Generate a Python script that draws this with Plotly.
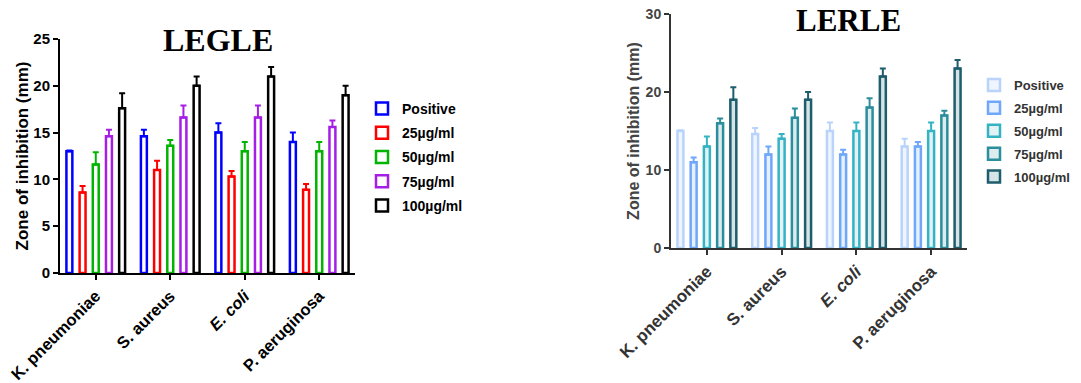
import plotly.graph_objects as go

categories = ["K. pneumoniae", "S. aureus", "E. coli", "P. aeruginosa"]
tick_labels = ["K. pneumoniae", "S. aureus", "<i>E. coli</i>", "P. aeruginosa"]
series_names = ["Positive", "25µg/ml", "50µg/ml", "75µg/ml", "100µg/ml"]

# LEGLE values (mm) and upper error (mm)
legle_positive = [13.0, 14.6, 15.0, 14.0]
legle_25 = [8.6, 11.0, 10.3, 8.9]
legle_50 = [11.6, 13.6, 13.0, 13.0]
legle_75 = [14.6, 16.6, 16.6, 15.6]
legle_100 = [17.6, 20.0, 21.0, 19.0]
legle_err_positive = [0.1, 0.7, 1.0, 1.0]
legle_err_25 = [0.7, 1.0, 0.6, 0.6]
legle_err_50 = [1.3, 0.6, 1.0, 1.0]
legle_err_75 = [0.7, 1.3, 1.3, 0.7]
legle_err_100 = [1.6, 1.0, 1.0, 1.0]

# LERLE values (mm) and upper error (mm)
lerle_positive = [15.0, 14.6, 15.0, 13.0]
lerle_25 = [11.0, 12.0, 12.0, 13.0]
lerle_50 = [13.0, 14.0, 15.0, 15.0]
lerle_75 = [16.0, 16.7, 18.0, 17.0]
lerle_100 = [19.0, 19.0, 22.0, 23.0]
lerle_err_positive = [0.1, 0.8, 1.1, 1.0]
lerle_err_25 = [0.6, 1.0, 0.6, 0.6]
lerle_err_50 = [1.3, 0.6, 1.1, 1.1]
lerle_err_75 = [0.6, 1.2, 1.2, 0.6]
lerle_err_100 = [1.6, 1.0, 1.0, 1.1]

legle_vals = [legle_positive, legle_25, legle_50, legle_75, legle_100]
legle_errs = [legle_err_positive, legle_err_25, legle_err_50, legle_err_75, legle_err_100]
lerle_vals = [lerle_positive, lerle_25, lerle_50, lerle_75, lerle_100]
lerle_errs = [lerle_err_positive, lerle_err_25, lerle_err_50, lerle_err_75, lerle_err_100]

legle_colors = ["#0000ff", "#ff0000", "#00b400", "#a61ee6", "#000000"]
lerle_lines = ["#b9d3fa", "#6fa7fb", "#34b3c3", "#2b8e9c", "#1d5d6c"]
lerle_fills = ["#eef5ff", "#e6f0ff", "#e3f3f5", "#dcecef", "#d6e4e8"]

W, H = 1081, 383
OFF = 0  # page body margin removed below
fig = go.Figure()

for name, vals, errs, col in zip(series_names, legle_vals, legle_errs, legle_colors):
    fig.add_trace(go.Bar(
        x=categories, y=vals, name="<b>" + name + "</b>", xaxis="x", yaxis="y",
        legend="legend", legendgroup="L" + name,
        marker=dict(color="white", line=dict(color=col, width=2.5)),
        error_y=dict(type="data", array=errs, arrayminus=[0] * len(errs), symmetric=False,
                     color=col, thickness=2, width=3),
    ))

for name, vals, errs, col, fill in zip(series_names, lerle_vals, lerle_errs, lerle_lines, lerle_fills):
    fig.add_trace(go.Bar(
        x=categories, y=vals, name="<b>" + name + "</b>", xaxis="x2", yaxis="y2",
        legend="legend2", legendgroup="R" + name,
        marker=dict(color=fill, line=dict(color=col, width=2.5)),
        error_y=dict(type="data", array=errs, arrayminus=[0] * len(errs), symmetric=False,
                     color=col, thickness=2, width=3),
    ))

def px_x(p):
    return (p - OFF) / W

def px_y(p):
    return 1 - (p - OFF) / H

FONT = "Liberation Sans, Arial"
common_x = dict(type="category", showline=True, ticks="outside", ticklen=5, tickwidth=2,
                tickangle=-45, showgrid=False, zeroline=False, tickvals=categories,
                ticktext=["<b>" + t + "</b>" for t in tick_labels], range=[-0.48, 3.48],
                automargin=False, ticklabeloverflow="allow")

fig.update_layout(
    width=W, height=H, margin=dict(l=0, r=0, t=0, b=0, autoexpand=False),
    paper_bgcolor="white", plot_bgcolor="white",
    barmode="group", bargap=0.115, bargroupgap=0.55,
    font=dict(family=FONT),
    xaxis=dict(domain=[px_x(60), px_x(355)], anchor="y", linecolor="black", linewidth=2,
               tickcolor="black", tickfont=dict(family=FONT, size=16.5, color="black"), **common_x),
    yaxis=dict(domain=[px_y(273), px_y(39)], anchor="x", range=[0, 25], dtick=5,
               showline=True, linecolor="black", linewidth=2, ticks="outside", ticklen=5,
               tickwidth=2, tickcolor="black", showgrid=False, zeroline=False, automargin=False,
               ticklabeloverflow="allow",
               tickfont=dict(family=FONT, size=15, color="black"), tickprefix="<b>", ticksuffix="</b>",
               title=dict(text="<b>Zone of inhibition (mm)</b>",
                          font=dict(family=FONT, size=17, color="black"), standoff=0)),
    xaxis2=dict(domain=[px_x(671), px_x(967)], anchor="y2", linecolor="#333333", linewidth=2,
                tickcolor="#333333", tickfont=dict(family=FONT, size=17, color="#333333"),
                **common_x),
    yaxis2=dict(domain=[px_y(248), px_y(14)], anchor="x2", range=[0, 30], dtick=10,
                showline=True, linecolor="#333333", linewidth=2, ticks="outside", ticklen=5,
                tickwidth=2, tickcolor="#333333", showgrid=False, zeroline=False, automargin=False,
                ticklabeloverflow="allow",
                tickfont=dict(family=FONT, size=14, color="#444444"),
                tickprefix="<b>", ticksuffix="</b>",
                title=dict(text="<b>Zone of inhibition (mm)</b>",
                           font=dict(family=FONT, size=16, color="#444444"), standoff=2)),
    legend=dict(x=px_x(362), y=px_y(93), xanchor="left", yanchor="top",
                font=dict(family=FONT, size=14, color="black"),
                bgcolor="rgba(0,0,0,0)", tracegroupgap=3, itemwidth=30),
    legend2=dict(x=px_x(974), y=px_y(70), xanchor="left", yanchor="top",
                 font=dict(family=FONT, size=13, color="#333333"),
                 bgcolor="rgba(0,0,0,0)", tracegroupgap=3, itemwidth=30),
    annotations=[
        dict(text="<b>LEGLE</b>", x=px_x(218), y=px_y(40), xref="paper", yref="paper",
             showarrow=False, xanchor="center", yanchor="middle",
             font=dict(family="Liberation Serif, Times New Roman", size=32, color="black")),
        dict(text="<b>LERLE</b>", x=px_x(848), y=px_y(20), xref="paper", yref="paper",
             showarrow=False, xanchor="center", yanchor="middle",
             font=dict(family="Liberation Serif, Times New Roman", size=31, color="black")),
    ],
)

fig.write_html("out.html", config={"displayModeBar": False},
               post_script="document.body.style.margin='0px';")
